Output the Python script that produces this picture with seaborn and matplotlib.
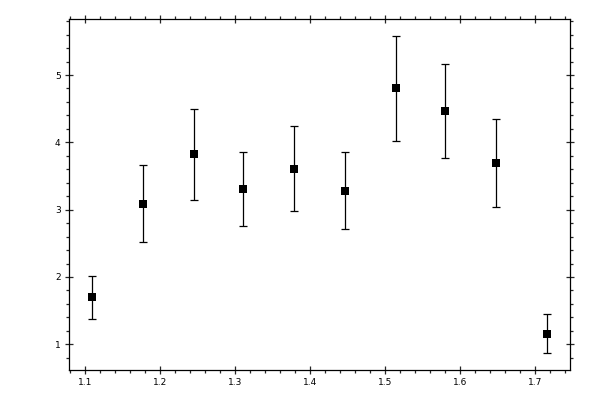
import numpy as np
import pandas as pd
import seaborn as sns
import matplotlib
matplotlib.use("Agg")
import matplotlib.pyplot as plt
from matplotlib.ticker import MultipleLocator

# values
x_vals = [1.110, 1.178, 1.245, 1.311, 1.379, 1.446, 1.514, 1.580, 1.647, 1.715]
y_vals = [1.70, 3.09, 3.82, 3.30, 3.61, 3.28, 4.80, 4.46, 3.69, 1.16]
y_err = [0.32, 0.57, 0.68, 0.55, 0.63, 0.57, 0.78, 0.70, 0.65, 0.29]

df = pd.DataFrame({"x": x_vals, "y": y_vals, "err": y_err})

sns.set_style("ticks")
plt.rcParams["font.family"] = ["DejaVu Sans"]

fig = plt.figure(figsize=(6, 4), dpi=100)
ax = fig.add_axes([0.115, 0.075, 0.835, 0.8775])

ax.errorbar(df["x"], df["y"], yerr=df["err"], fmt="none", ecolor="black",
            elinewidth=0.9, capsize=2.6, capthick=0.9)
sns.scatterplot(data=df, x="x", y="y", marker="s", s=27, color="black",
                edgecolor="black", linewidth=0, ax=ax, zorder=3)

ax.set_xlim(1.079, 1.746)
ax.set_ylim(0.618, 5.832)
ax.xaxis.set_major_locator(MultipleLocator(0.1))
ax.xaxis.set_minor_locator(MultipleLocator(0.02))
ax.yaxis.set_major_locator(MultipleLocator(1))
ax.yaxis.set_minor_locator(MultipleLocator(0.2))
ax.xaxis.set_major_formatter(matplotlib.ticker.FormatStrFormatter("%.1f"))
ax.yaxis.set_major_formatter(matplotlib.ticker.FormatStrFormatter("%d"))

ax.tick_params(which="major", direction="inout", length=6, width=0.9,
               top=True, right=True, labelsize=6.5, labelcolor="black", pad=3)
ax.tick_params(which="minor", direction="out", length=2.4, width=0.9,
               top=True, right=True)
for s in ax.spines.values():
    s.set_visible(True)
    s.set_linewidth(0.9)
    s.set_color("black")

ax.set_xlabel("")
ax.set_ylabel("")
fig.savefig("out.png", dpi=100, facecolor="white")
